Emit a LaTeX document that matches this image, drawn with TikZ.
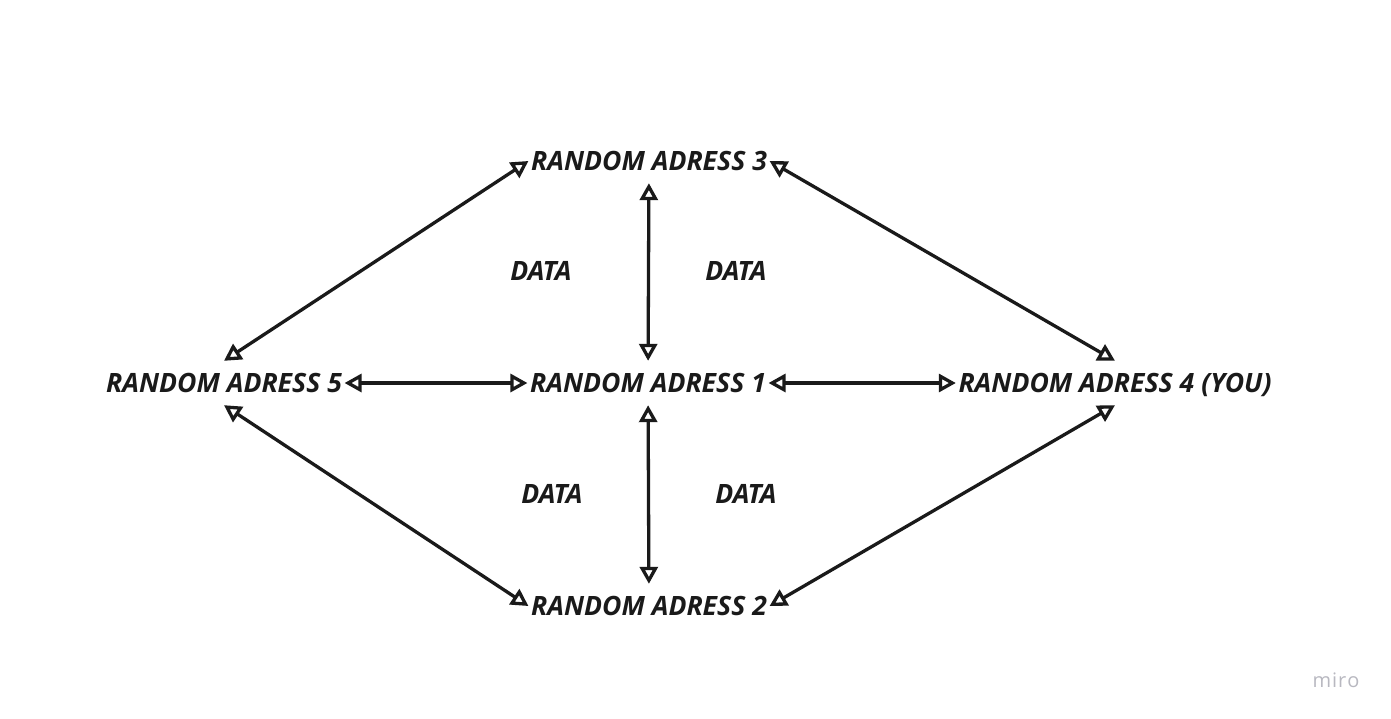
\documentclass[tikz,border=0pt]{standalone}
\usepackage{fontspec}
\setmainfont{Open Sans}
\usetikzlibrary{arrows.meta}
\definecolor{inkblack}{HTML}{1A1A1A}
\definecolor{mirogray}{HTML}{B8B8C0}
\begin{document}
\begin{tikzpicture}[x=1pt,y=-1pt,
  addr/.style={inner xsep=2.5pt,inner ysep=12.5pt,text height=19pt,text depth=0pt,
    font=\fontsize{26.6}{30}\selectfont\bfseries\itshape,text=inkblack},
  datalabel/.style={font=\fontsize{26.6}{30}\selectfont\bfseries\itshape,text=inkblack},
  link/.style={{Triangle[open,length=17pt,width=18pt]}-{Triangle[open,length=17pt,width=18pt]},
    line width=3.3pt,draw=inkblack}]
\useasboundingbox (0,0) rectangle (1391,718);
\coordinate (P1) at (648,383);
\coordinate (P2) at (649,606);
\coordinate (P3) at (649,161);
\coordinate (P4) at (1115,383);
\coordinate (P5) at (224,383);

\node[addr] (A1) at (P1) {RANDOM ADRESS 1};
\node[addr] (A2) at (P2) {RANDOM ADRESS 2};
\node[addr] (A3) at (P3) {RANDOM ADRESS 3};
\node[addr] (A4) at (P4) {RANDOM ADRESS 4 (YOU)};
\node[addr] (A5) at (P5) {RANDOM ADRESS 5};

\node[datalabel] (D1) at (541,271) {DATA};
\node[datalabel] (D2) at (736,271) {DATA};
\node[datalabel] (D3) at (552,494) {DATA};
\node[datalabel] (D4) at (746,494) {DATA};

\draw[link] (A3) -- (A1);
\draw[link] (A1) -- (A2);
\draw[link] (A5) -- (A1);
\draw[link] (A1) -- (A4);
\draw[link] (A5.north) -- (A3.west);
\draw[link] (A3.east) -- (A4.north);
\draw[link] (A5.south) -- (A2.west);
\draw[link] (A2.east) -- (A4.south);

\node[text=mirogray,font=\fontsize{20}{24}\selectfont,
  inner sep=0pt] (W) at (1336,680) {m\kern1pt i\kern1pt r\kern1pt o};
\end{tikzpicture}
\end{document}
